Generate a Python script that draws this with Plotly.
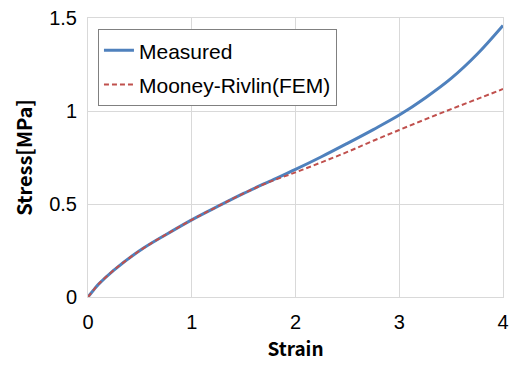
import plotly.graph_objects as go

strain = [0, 0.05, 0.1, 0.25, 0.5, 0.75, 1.0, 1.25, 1.5, 1.75, 2.0, 2.25, 2.5, 2.75, 3.0, 3.25, 3.5, 3.75, 4.0]
measured = [0, 0.035, 0.068, 0.145, 0.25, 0.335, 0.415, 0.487, 0.557, 0.622, 0.686, 0.754, 0.826, 0.90, 0.978, 1.07, 1.175, 1.305, 1.46]
mooney = [0, 0.035, 0.068, 0.145, 0.25, 0.335, 0.415, 0.487, 0.557, 0.619, 0.670, 0.724, 0.78, 0.84, 0.898, 0.955, 1.01, 1.064, 1.118]

fig = go.Figure()
fig.add_trace(go.Scatter(x=strain, y=measured, mode="lines", name="Measured",
                         line=dict(color="#4F81BD", width=3, shape="spline"), legendgroup="a"))
fig.add_trace(go.Scatter(x=strain, y=mooney, mode="lines", name="Mooney-Rivlin(FEM)",
                         line=dict(color="#C0504D", width=2, dash="5px,3px", shape="spline"), legendgroup="b"))

axis_common = dict(showgrid=True, gridcolor="#d9d9d9", gridwidth=1, showline=True, linecolor="#d9d9d9",
                   linewidth=1, mirror=True, zeroline=False, ticks="", automargin=False,
                   tickfont=dict(family="Liberation Sans, Arial", size=20, color="#000"))

fig.update_layout(
    width=514, height=367,
    margin=dict(l=88, r=11, t=18, b=70, autoexpand=False),
    paper_bgcolor="white", plot_bgcolor="white",
    xaxis=dict(range=[0, 4], dtick=1, ticklabelstandoff=7,
               title=dict(text="<b>Strain</b>", standoff=10,
                          font=dict(family="Noto Sans CJK JP", size=19, color="#000")), **axis_common),
    yaxis=dict(range=[0, 1.5], dtick=0.5, ticklabelstandoff=6,
               title=dict(text="<b>Stress[MPa]</b>", standoff=11,
                          font=dict(family="Noto Sans CJK JP", size=20, color="#000")), **axis_common),
    legend=dict(x=0.024, y=0.96, xanchor="left", yanchor="top", bgcolor="white",
                bordercolor="#808080", borderwidth=1, tracegroupgap=4, itemwidth=30,
                font=dict(family="Liberation Sans, Arial", size=21, color="#000")),
    showlegend=True,
)
fig.write_html("out.html")
